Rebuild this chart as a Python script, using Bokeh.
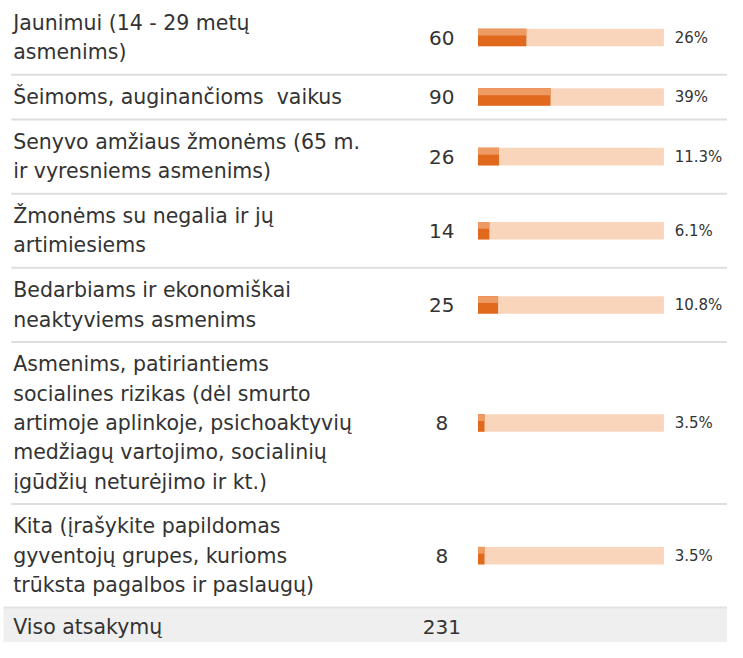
from bokeh.plotting import figure
from bokeh.models import Range1d, ColumnDataSource
from bokeh.core.properties import value
from bokeh.embed import file_html
from bokeh.resources import INLINE

# ---- data ----
label_lines = [
    ["Jaunimui (14 - 29 metų", "asmenims)"],
    ["Šeimoms, auginančioms\u00a0 vaikus"],
    ["Senyvo amžiaus žmonėms (65 m.", "ir vyresniems asmenims)"],
    ["Žmonėms su negalia ir jų", "artimiesiems"],
    ["Bedarbiams ir ekonomiškai", "neaktyviems asmenims"],
    ["Asmenims, patiriantiems", "socialines rizikas (dėl smurto",
     "artimoje aplinkoje, psichoaktyvių", "medžiagų vartojimo, socialinių",
     "įgūdžių neturėjimo ir kt.)"],
    ["Kita (įrašykite papildomas", "gyventojų grupes, kurioms",
     "trūksta pagalbos ir paslaugų)"],
]
counts = [60, 90, 26, 14, 25, 8, 8]
percents = [26.0, 39.0, 11.3, 6.1, 10.8, 3.5, 3.5]
pct_labels = ["26%", "39%", "11.3%", "6.1%", "10.8%", "3.5%", "3.5%"]
total_label = "Viso atsakymų"
total_count = 231

# ---- layout (in reference-pixel units, scaled to fit) ----
W, H = 727, 642
REF_W, REF_H = 743, 658
LINE_H = 30
PAD = 16
X_LABEL = 13
X_COUNT = 451
BAR_X0 = 488
BAR_W = 190
BAR_H = 18
X_PCT = 689
FONT = value("DejaVu Sans")
TXT = "#333333"

p = figure(width=W, height=H, output_backend="svg", toolbar_location=None,
           x_range=Range1d(0, REF_W), y_range=Range1d(REF_H, 0),
           min_border=0, outline_line_color=None)
p.axis.visible = False
p.grid.visible = False
p.background_fill_color = "white"
p.border_fill_color = "white"

txt_x, txt_y, txt = [], [], []
cx, cy, ctext = [], [], []
row_centers = []
sep_y = []
top = 0
for lines, c in zip(label_lines, counts):
    n = len(lines)
    h = LINE_H * n + PAD
    center = top + h / 2
    row_centers.append(center)
    for i, ln in enumerate(lines):
        txt_x.append(X_LABEL)
        txt_y.append(center + (i - (n - 1) / 2) * LINE_H)
        txt.append(ln)
    cx.append(X_COUNT)
    cy.append(center)
    ctext.append(str(c))
    top += h
    sep_y.append(top)

total_top = sep_y[-1]
total_center = total_top + 20

# total band
p.quad(left=[3], right=[REF_W + 5], top=[total_top], bottom=[REF_H + 5],
       fill_color="#EFEFEF", line_color=None)

# separators
for y in sep_y[:-1]:
    p.segment(x0=[11], y0=[y], x1=[REF_W + 5], y1=[y], line_color="#DEDEDE", line_width=2)
p.segment(x0=[3], y0=[total_top], x1=[REF_W + 5], y1=[total_top], line_color="#E3E3E3", line_width=2)

# bars
bg = ColumnDataSource(dict(
    left=[BAR_X0] * len(counts),
    right=[BAR_X0 + BAR_W] * len(counts),
    top=[c - BAR_H / 2 for c in row_centers],
    bottom=[c + BAR_H / 2 for c in row_centers],
))
p.quad(left="left", right="right", top="top", bottom="bottom", source=bg,
       fill_color="#F9D5BB", line_color=None)

fg = ColumnDataSource(dict(
    left=[BAR_X0] * len(counts),
    right=[BAR_X0 + BAR_W * v / 100 for v in percents],
    top=[c - BAR_H / 2 for c in row_centers],
    bottom=[c + BAR_H / 2 for c in row_centers],
    top2=[c - BAR_H / 2 for c in row_centers],
    bottom2=[c - BAR_H / 2 + 7 for c in row_centers],
))
p.quad(left="left", right="right", top="top", bottom="bottom", source=fg,
       fill_color="#E0691E", line_color=None)
p.quad(left="left", right="right", top="top2", bottom="bottom2", source=fg,
       fill_color="#EE9A63", line_color=None)

# texts
p.text(x=txt_x, y=txt_y, text=txt, text_font=FONT,
       text_font_size="20.5px", text_color=TXT,
       text_baseline="middle", text_align="left")
p.text(x=cx, y=cy, text=ctext, text_font=FONT,
       text_font_size="20px", text_color=TXT,
       text_baseline="middle", text_align="center")
p.text(x=[X_PCT] * len(pct_labels), y=row_centers, text=pct_labels,
       text_font=FONT, text_font_size="15px", text_color=TXT,
       text_baseline="middle", text_align="left")
p.text(x=[X_LABEL], y=[total_center], text=[total_label], text_font=FONT,
       text_font_size="20.5px", text_color=TXT, text_baseline="middle", text_align="left")
p.text(x=[X_COUNT], y=[total_center], text=[str(total_count)], text_font=FONT,
       text_font_size="20px", text_color=TXT, text_baseline="middle", text_align="center")

open("out.html", "w").write(file_html(p, INLINE))
